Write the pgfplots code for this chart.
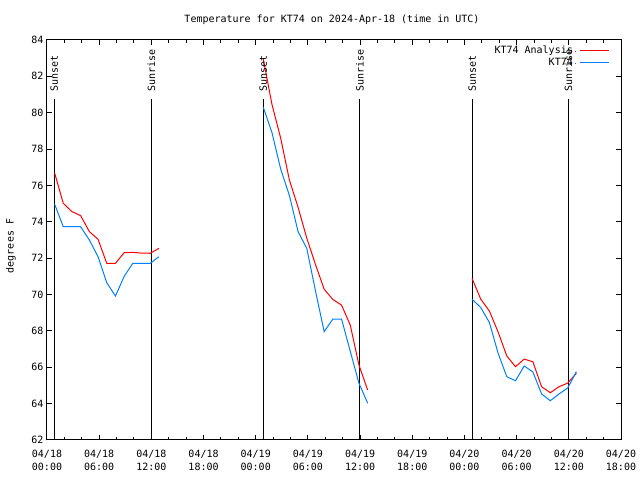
\documentclass[border=0pt]{standalone}
\usepackage{fontspec}
\setmainfont{DejaVu Sans Mono}
\usepackage{pgfplots}
\usepackage{pgfplotstable}
\pgfplotsset{compat=1.18}
\definecolor{kred}{RGB}{255,0,0}
\definecolor{kblue}{RGB}{0,128,255}
\newcommand{\gf}{\fontsize{10bp}{13bp}\selectfont}
\pgfplotstableread{
t v
0.87 76.70
1.87 75.02
2.87 74.56
3.87 74.34
4.87 73.46
5.87 73.04
6.87 71.72
7.87 71.72
8.87 72.30
9.87 72.32
10.87 72.28
11.87 72.27
12.87 72.54
18 nan
24.87 82.95
25.87 80.45
26.87 78.60
27.87 76.30
28.87 74.80
29.87 73.10
30.87 71.65
31.87 70.29
32.87 69.73
33.87 69.42
34.87 68.32
35.87 66.12
36.87 64.75
42 nan
48.87 70.89
49.87 69.75
50.87 69.09
51.87 67.94
52.87 66.62
53.87 66.03
54.87 66.45
55.87 66.30
56.87 64.93
57.87 64.60
58.87 64.93
59.87 65.13
60.87 65.67
}\analysis
\pgfplotstableread{
t v
0.87 74.98
1.87 73.73
2.87 73.73
3.87 73.73
4.87 73.00
5.87 72.08
6.87 70.65
7.87 69.92
8.87 71.00
9.87 71.72
10.87 71.72
11.87 71.72
12.87 72.08
18 nan
24.87 80.30
25.87 78.90
26.87 76.90
27.87 75.45
28.87 73.46
29.87 72.54
30.87 70.20
31.87 67.96
32.87 68.65
33.87 68.65
34.87 66.88
35.87 65.12
36.87 64.03
42 nan
48.87 69.74
49.87 69.29
50.87 68.46
51.87 66.77
52.87 65.48
53.87 65.26
54.87 66.07
55.87 65.74
56.87 64.53
57.87 64.16
58.87 64.53
59.87 64.86
60.87 65.76
}\obs
\begin{document}
\begin{tikzpicture}
\useasboundingbox (-47bp,-40bp) rectangle (593bp,440bp);
\begin{axis}[
  at={(0,0)}, anchor=south west,
  scale only axis, width=574bp, height=400bp,
  xmin=0, xmax=66, ymin=62, ymax=84,
  xtick={0,6,...,66},
  xticklabels={{04/18\\00:00},{04/18\\06:00},{04/18\\12:00},{04/18\\18:00},
               {04/19\\00:00},{04/19\\06:00},{04/19\\12:00},{04/19\\18:00},
               {04/20\\00:00},{04/20\\06:00},{04/20\\12:00},{04/20\\18:00}},
  minor x tick num=2,
  ytick={62,64,...,84},
  tick align=inside,
  major tick length=5bp, minor tick length=3bp,
  axis line style={line width=1bp},
  every tick/.style={black, line width=1bp},
  ticklabel style={font=\gf},
  xticklabel style={align=center, yshift=-7bp},
  /pgf/number format/assume math mode=true,
  unbounded coords=jump,
  legend plot pos=right,
  legend cell align=right,
  legend style={draw=none, fill=none, at={(1,1)}, anchor=north east,
    xshift=-8bp, yshift=-2bp, font=\gf, row sep=-1bp},
  legend image code/.code={\path (0bp,0bp) -- (0bp,0.1bp);\draw[#1] (5bp,0bp) -- (34bp,0bp);},
]
\addplot[black, line width=1bp, forget plot] coordinates {(0.84,62) (0.84,80.75)};
\addplot[black, line width=1bp, forget plot] coordinates {(12.0,62) (12.0,80.75)};
\addplot[black, line width=1bp, forget plot] coordinates {(24.86,62) (24.86,80.75)};
\addplot[black, line width=1bp, forget plot] coordinates {(35.98,62) (35.98,80.75)};
\addplot[black, line width=1bp, forget plot] coordinates {(48.88,62) (48.88,80.75)};
\addplot[black, line width=1bp, forget plot] coordinates {(59.96,62) (59.96,80.75)};
\addplot[kred, line width=1bp] table[x=t, y=v] {\analysis};
\addplot[kblue, line width=1bp] table[x=t, y=v] {\obs};
\legend{KT74 Analysis, KT74}
\node[rotate=90, anchor=west, inner sep=0pt, font=\gf] at (axis cs:0.84,81.14) {Sunset};
\node[rotate=90, anchor=west, inner sep=0pt, font=\gf] at (axis cs:12.0,81.14) {Sunrise};
\node[rotate=90, anchor=west, inner sep=0pt, font=\gf] at (axis cs:24.86,81.14) {Sunset};
\node[rotate=90, anchor=west, inner sep=0pt, font=\gf] at (axis cs:35.98,81.14) {Sunrise};
\node[rotate=90, anchor=west, inner sep=0pt, font=\gf] at (axis cs:48.88,81.14) {Sunset};
\node[rotate=90, anchor=west, inner sep=0pt, font=\gf] at (axis cs:59.96,81.14) {Sunrise};
\end{axis}
\node[font=\gf] at (285bp,420bp) {Temperature for KT74 on 2024-Apr-18 (time in UTC)};
\node[font=\gf, rotate=90] at (-36bp,194bp) {degrees F};
\end{tikzpicture}
\end{document}
